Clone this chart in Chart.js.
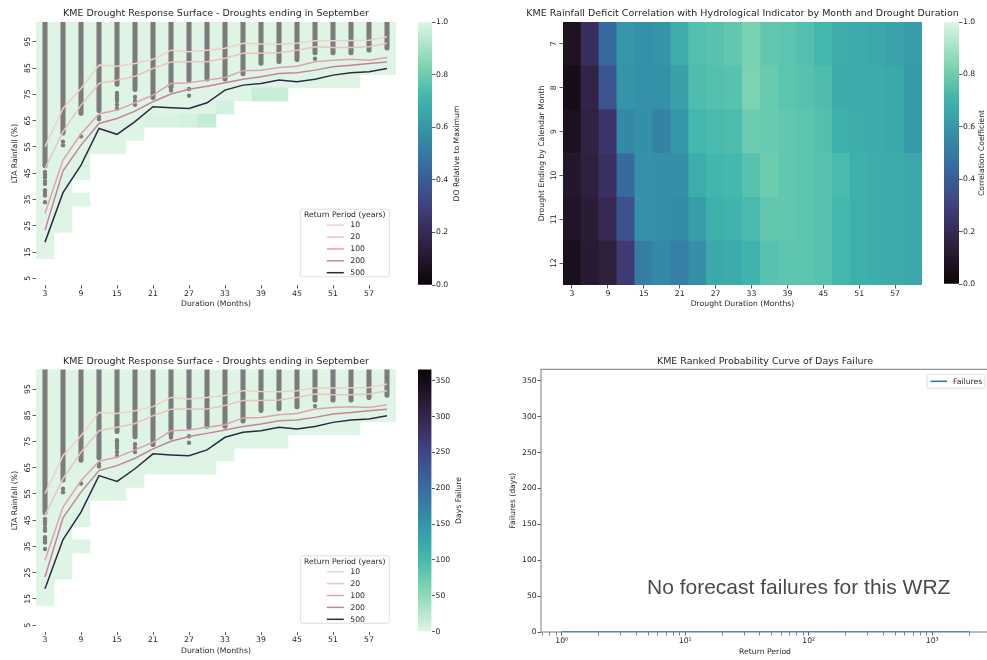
<!DOCTYPE html>
<html>
<head>
<meta charset="utf-8">
<script src="https://cdn.jsdelivr.net/npm/chart.js@4.4.1/dist/chart.umd.min.js"></script>
<style>
  html, body { margin: 0; padding: 0; background: #fff; width: 987px; height: 660px; overflow: hidden; position: relative; }
  canvas { position: absolute; }
</style>
</head>
<body>
<canvas id="surfaceDo" width="400" height="320" style="left:0px;top:0px"></canvas>
<canvas id="barDo" width="55" height="320" style="left:418px;top:0px"></canvas>
<canvas id="corrMap" width="467" height="320" style="left:520px;top:0px"></canvas>
<canvas id="barCorr" width="43" height="320" style="left:944px;top:0px"></canvas>
<canvas id="surfaceDays" width="400" height="320" style="left:0px;top:340px"></canvas>
<canvas id="barDays" width="55" height="320" style="left:418px;top:340px"></canvas>
<canvas id="rankedCurve" width="510" height="320" style="left:490px;top:340px"></canvas>
<script>
// ---------- data ----------
const durations = [3, 6, 9, 12, 15, 18, 21, 24, 27, 30, 33, 36, 39, 42, 45, 48, 51, 54, 57, 60];
const durationTicks = [3, 9, 15, 21, 27, 33, 39, 45, 51, 57];
const rainRows = [100, 95, 90, 85, 80, 75, 70, 65, 60, 55, 50, 45, 40, 35, 30, 25, 20, 15];
const rainTicks = [5, 15, 25, 35, 45, 55, 65, 75, 85, 95];

const _ = null;
// DO relative to maximum, rows follow rainRows, columns follow durations
const doRelative = [
  [1,1,1,1,1,1,1,1,1,1,1,1,1,1,1,1,1,1,1,1],
  [1,1,1,1,1,1,1,1,1,1,1,1,1,1,1,1,1,1,1,1],
  [1,1,1,1,1,1,1,1,1,1,1,1,1,1,1,1,1,1,1,1],
  [1,1,1,1,1,1,1,1,1,1,1,1,1,1,1,1,1,1,1,1],
  [1,1,1,1,1,1,1,1,1,1,1,1,1,1,1,1,1,1,_,_],
  [1,1,1,1,1,1,1,1,1,1,1,1,0.96,0.96,_,_,_,_,_,_],
  [1,1,1,1,1,1,1,1,1,1,0.98,_,_,_,_,_,_,_,_,_],
  [1,1,1,1,1,1,0.99,0.99,0.98,0.955,_,_,_,_,_,_,_,_,_,_],
  [1,1,1,1,1,1,_,_,_,_,_,_,_,_,_,_,_,_,_,_],
  [1,1,1,1,1,_,_,_,_,_,_,_,_,_,_,_,_,_,_,_],
  [1,1,1,_,_,_,_,_,_,_,_,_,_,_,_,_,_,_,_,_],
  [1,1,1,_,_,_,_,_,_,_,_,_,_,_,_,_,_,_,_,_],
  [1,1,_,_,_,_,_,_,_,_,_,_,_,_,_,_,_,_,_,_],
  [1,1,1,_,_,_,_,_,_,_,_,_,_,_,_,_,_,_,_,_],
  [1,1,_,_,_,_,_,_,_,_,_,_,_,_,_,_,_,_,_,_],
  [1,1,_,_,_,_,_,_,_,_,_,_,_,_,_,_,_,_,_,_],
  [1,_,_,_,_,_,_,_,_,_,_,_,_,_,_,_,_,_,_,_],
  [1,_,_,_,_,_,_,_,_,_,_,_,_,_,_,_,_,_,_,_]
];
// Days of failure on the same grid
const daysFailure = [
  [0,0,0,0,0,0,0,0,0,0,0,0,0,0,0,0,0,0,0,0],
  [0,0,0,0,0,0,0,0,0,0,0,0,0,0,0,0,0,0,0,0],
  [0,0,0,0,0,0,0,0,0,0,0,0,0,0,0,0,0,0,0,0],
  [0,0,0,0,0,0,0,0,0,0,0,0,0,0,0,0,0,0,0,0],
  [0,0,0,0,0,0,0,0,0,0,0,0,0,0,0,0,0,0,_,_],
  [0,0,0,0,0,0,0,0,0,0,0,0,0,0,_,_,_,_,_,_],
  [0,0,0,0,0,0,0,0,0,0,0,_,_,_,_,_,_,_,_,_],
  [0,0,0,0,0,0,0,0,0,0,_,_,_,_,_,_,_,_,_,_],
  [0,0,0,0,0,0,_,_,_,_,_,_,_,_,_,_,_,_,_,_],
  [0,0,0,0,0,_,_,_,_,_,_,_,_,_,_,_,_,_,_,_],
  [0,0,0,_,_,_,_,_,_,_,_,_,_,_,_,_,_,_,_,_],
  [0,0,0,_,_,_,_,_,_,_,_,_,_,_,_,_,_,_,_,_],
  [0,0,_,_,_,_,_,_,_,_,_,_,_,_,_,_,_,_,_,_],
  [0,0,0,_,_,_,_,_,_,_,_,_,_,_,_,_,_,_,_,_],
  [0,0,_,_,_,_,_,_,_,_,_,_,_,_,_,_,_,_,_,_],
  [0,0,_,_,_,_,_,_,_,_,_,_,_,_,_,_,_,_,_,_],
  [0,_,_,_,_,_,_,_,_,_,_,_,_,_,_,_,_,_,_,_],
  [0,_,_,_,_,_,_,_,_,_,_,_,_,_,_,_,_,_,_,_]
];

// Simulated drought rainfall: dense band floor per duration, plus isolated events
const simDenseFloor = [47, 59.5, 67, 68, 78, 76, 73, 77, 79.5, 80, 80, 82, 86, 86.7, 87.4, 90, 90, 90, 91, 91.8];
const simCeiling = 104;
const simSparseX = [3, 3, 3, 3, 3, 3, 3, 3, 3, 6, 6, 9, 12, 12, 15, 15, 15, 15, 15, 15, 18, 18, 18, 24, 24, 27, 27, 48];
const simSparseY = [45.5, 44.5, 43.5, 42, 41, 38.5, 37.5, 36.5, 34, 57, 55.6, 59, 66.5, 65.5, 75.5, 74.5, 73.5, 72.5, 71, 69.5, 74, 72.5, 71, 77.5, 76.5, 77, 74.5, 88.5];

// Return period rainfall (% LTA) by duration
const returnPeriods = ['10', '20', '100', '200', '500'];
const rp10  = [55.1, 69.6, 77.2, 86.1, 85.7, 86.7, 88.3, 91.8, 91.2, 91.8, 92.5, 94.4, 94.1, 94.0, 94.4, 95.4, 95.4, 95.5, 95.6, 96.9];
const rp20  = [46.8, 60.8, 70.9, 79.1, 80.4, 81.9, 84.8, 87.3, 87.4, 87.4, 88.7, 90.6, 90.6, 90.8, 91.8, 93.1, 92.8, 92.8, 93.1, 94.4];
const rp100 = [29.7, 50.0, 60.0, 67.5, 69.0, 71.8, 74.7, 79.1, 79.4, 80.4, 81.4, 84.0, 84.2, 85.2, 85.7, 87.4, 88.0, 88.3, 88.0, 89.0];
const rp200 = [23.3, 45.9, 55.7, 63.9, 65.8, 68.6, 72.2, 75.1, 76.9, 78.1, 79.4, 80.7, 81.7, 82.9, 83.2, 84.2, 85.5, 86.1, 86.7, 87.3];
const rp500 = [18.8, 37.6, 48.1, 62.0, 59.8, 64.6, 70.3, 69.9, 69.6, 71.8, 76.6, 78.5, 79.1, 80.4, 79.8, 80.7, 82.3, 83.2, 83.6, 84.8];

// Correlation of rainfall deficit with hydrological indicator
const calendarMonths = [7, 8, 9, 10, 11, 12];
const corrJul = [0.08, 0.22, 0.45, 0.60, 0.58, 0.59, 0.68, 0.75, 0.76, 0.78, 0.82, 0.78, 0.77, 0.75, 0.72, 0.68, 0.67, 0.66, 0.64, 0.62];
const corrAug = [0.05, 0.17, 0.37, 0.59, 0.58, 0.58, 0.63, 0.74, 0.75, 0.76, 0.83, 0.79, 0.77, 0.76, 0.74, 0.67, 0.67, 0.67, 0.66, 0.61];
const corrSep = [0.07, 0.16, 0.25, 0.55, 0.57, 0.53, 0.60, 0.72, 0.73, 0.74, 0.80, 0.79, 0.78, 0.77, 0.75, 0.69, 0.68, 0.67, 0.66, 0.61];
const corrOct = [0.10, 0.15, 0.23, 0.45, 0.58, 0.57, 0.57, 0.68, 0.71, 0.72, 0.76, 0.80, 0.78, 0.77, 0.76, 0.73, 0.69, 0.68, 0.67, 0.66];
const corrNov = [0.09, 0.13, 0.20, 0.36, 0.58, 0.57, 0.56, 0.62, 0.69, 0.70, 0.73, 0.78, 0.78, 0.77, 0.76, 0.72, 0.69, 0.68, 0.67, 0.66];
const corrDec = [0.06, 0.12, 0.15, 0.27, 0.51, 0.55, 0.52, 0.57, 0.66, 0.67, 0.70, 0.76, 0.77, 0.77, 0.76, 0.72, 0.69, 0.68, 0.67, 0.66];

// Colour bar scales
const unitTicks = [0, 0.2, 0.4, 0.6, 0.8, 1.0];
const failureTicks = [0, 50, 100, 150, 200, 250, 300, 350];
const failureMax = 366;

// Ranked probability curve (no failures recorded)
const rankedReturn   = [1, 2, 5, 10, 20, 50, 100, 200, 500, 1000, 2000];
const rankedFailures = [0, 0, 0, 0, 0, 0, 0, 0, 0, 0, 0];
const logMajor = [1, 10, 100, 1000];
const logMajorLabels = ['10\u2070', '10\u00b9', '10\u00b2', '10\u00b3'];
const logMinor = [0.7, 0.8, 0.9, 2, 3, 4, 5, 6, 7, 8, 9, 20, 30, 40, 50, 60, 70, 80, 90, 200, 300, 400, 500, 600, 700, 800, 900, 2000];

// ---------- styling ----------
const FONT = "'DejaVu Sans', sans-serif";
const TEXT = '#262626';
const SIM_GREY = '#7c7c7c';
const LINE_COLOURS = ['#efd0cb', '#ebc4c0', '#e0a2ad', '#c7819f', '#2c2947'];

const MAKO_STOPS = [
  [0, [11, 4, 5]], [1 / 7, [46, 30, 59]], [2 / 7, [65, 61, 123]], [3 / 7, [55, 101, 158]],
  [4 / 7, [52, 143, 167]], [5 / 7, [64, 183, 173]], [6 / 7, [139, 218, 178]], [1, [222, 245, 229]]
];
function mako(t) {
  t = Math.max(0, Math.min(1, t));
  for (let i = 1; i < MAKO_STOPS.length; i++) {
    if (t <= MAKO_STOPS[i][0]) {
      const [t0, c0] = MAKO_STOPS[i - 1];
      const [t1, c1] = MAKO_STOPS[i];
      const f = (t - t0) / (t1 - t0);
      return 'rgb(' + c0.map((c, k) => Math.round(c + (c1[k] - c) * f)).join(',') + ')';
    }
  }
  return 'rgb(222,245,229)';
}

Chart.defaults.font.family = FONT;
Chart.defaults.font.size = 7.7;
Chart.defaults.color = TEXT;
Chart.defaults.animation = false;
Chart.defaults.events = [];
Chart.defaults.plugins.legend.display = false;
Chart.defaults.plugins.tooltip.enabled = false;

// Titles, colour-bar captions, framed axes, legends and notes
const decor = {
  id: 'decor',
  beforeDatasetsDraw(chart, args, o) {
    if (!o.frame) return;
    const a = chart.chartArea, ctx = chart.ctx;
    ctx.save();
    ctx.strokeStyle = o.frame;
    ctx.lineWidth = 1;
    ctx.strokeRect(a.left, a.top, a.right - a.left, a.bottom - a.top);
    ctx.restore();
  },
  afterDraw(chart, args, o) {
    const a = chart.chartArea, ctx = chart.ctx;
    ctx.save();
    ctx.fillStyle = TEXT;
    if (o.title) {
      ctx.font = '9.5px ' + FONT;
      ctx.textAlign = 'center';
      ctx.textBaseline = 'middle';
      ctx.fillText(o.title, (a.left + a.right) / 2, a.top - 8);
    }
    if (o.sideLabel) {
      ctx.save();
      ctx.font = '7.7px ' + FONT;
      ctx.textAlign = 'center';
      ctx.textBaseline = 'middle';
      ctx.translate(a.right + o.sideLabel.dx, (a.top + a.bottom) / 2);
      ctx.rotate(-Math.PI / 2);
      ctx.fillText(o.sideLabel.text, 0, 0);
      ctx.restore();
    }
    if (o.returnLegend) {
      const lines = chart.data.datasets.filter(d => d.type === 'line');
      const w = 89, h = 67.5;
      const x0 = a.right - 6.7 - w, y0 = a.bottom - 8.3 - h;
      ctx.fillStyle = 'rgba(255,255,255,0.85)';
      ctx.strokeStyle = '#d6d6d6';
      ctx.lineWidth = 0.8;
      ctx.beginPath();
      ctx.roundRect(x0, y0, w, h, 2);
      ctx.fill();
      ctx.stroke();
      ctx.fillStyle = TEXT;
      ctx.font = '7.7px ' + FONT;
      ctx.textAlign = 'center';
      ctx.textBaseline = 'middle';
      ctx.fillText(o.returnLegend, x0 + w / 2, y0 + 5.9);
      ctx.textAlign = 'left';
      lines.forEach((d, i) => {
        const y = y0 + 15.9 + i * 11.9;
        ctx.strokeStyle = d.borderColor;
        ctx.lineWidth = 1.5;
        ctx.beginPath();
        ctx.moveTo(x0 + 26.5, y);
        ctx.lineTo(x0 + 43.5, y);
        ctx.stroke();
        ctx.fillText(d.label, x0 + 50, y + 0.3);
      });
    }
    if (o.seriesLegend) {
      const d = chart.data.datasets[0];
      const w = 58, h = 14;
      const x0 = a.right - 4 - w, y0 = a.top + 5;
      ctx.fillStyle = 'rgba(255,255,255,0.85)';
      ctx.strokeStyle = '#d6d6d6';
      ctx.lineWidth = 0.8;
      ctx.beginPath();
      ctx.roundRect(x0, y0, w, h, 2);
      ctx.fill();
      ctx.stroke();
      ctx.strokeStyle = d.borderColor;
      ctx.lineWidth = 1.5;
      ctx.beginPath();
      ctx.moveTo(x0 + 3.5, y0 + h / 2);
      ctx.lineTo(x0 + 20, y0 + h / 2);
      ctx.stroke();
      ctx.fillStyle = TEXT;
      ctx.font = '7.7px ' + FONT;
      ctx.textAlign = 'left';
      ctx.textBaseline = 'middle';
      ctx.fillText(d.label, x0 + 26, y0 + h / 2 + 0.3);
    }
    if (o.note) {
      ctx.fillStyle = '#4a4a4a';
      ctx.font = "21px 'Liberation Sans', Arial, sans-serif";
      ctx.textAlign = 'left';
      ctx.textBaseline = 'middle';
      ctx.fillText(o.note, a.left + 106, a.bottom - 44);
    }
    ctx.restore();
  }
};
Chart.register(decor);

const tickGrid = {
  display: true, drawOnChartArea: false, drawTicks: true, offset: false,
  tickLength: 3.5, tickColor: '#333', tickWidth: 0.8
};
const fixedTicks = list => scale => { scale.ticks = list.map(v => ({ value: v })); };

function cellsFrom(grid, rows, halfHeight) {
  const cells = [];
  rows.forEach((r, ri) => durations.forEach((d, ci) => {
    const v = grid[ri][ci];
    if (v !== null) cells.push({ x: d, y: [r - halfHeight, r + halfHeight], v });
  }));
  return cells;
}

function surfaceConfig(grid, colourOf) {
  const lineSeries = [rp10, rp20, rp100, rp200, rp500];
  const lines = lineSeries.map((vals, i) => ({
    type: 'line',
    label: returnPeriods[i],
    data: durations.map((d, k) => ({ x: d, y: vals[k] })),
    borderColor: LINE_COLOURS[i],
    borderWidth: 1.5,
    pointRadius: 0,
    tension: 0,
    fill: false,
    order: 1
  }));
  return {
    type: 'bar',
    data: {
      datasets: [
        ...lines,
        {
          type: 'scatter',
          data: simSparseX.map((x, i) => ({ x, y: simSparseY[i] })),
          pointRadius: 2.2, pointBackgroundColor: SIM_GREY, pointBorderWidth: 0,
          order: 2
        },
        {
          type: 'bar',
          data: durations.map((d, i) => ({ x: d, y: [simDenseFloor[i], simCeiling] })),
          backgroundColor: SIM_GREY, barThickness: 4.4, borderRadius: 2.2, borderSkipped: false,
          grouped: false, order: 3
        },
        {
          type: 'bar',
          data: cellsFrom(grid, rainRows, 2.5),
          backgroundColor: c => (c.raw ? colourOf(c.raw.v) : 'transparent'),
          barPercentage: 1, categoryPercentage: 1, borderWidth: 0, grouped: false, order: 4
        }
      ]
    },
    options: {
      responsive: false,
      maintainAspectRatio: false,
      layout: { padding: { left: 0, right: 4, top: 22, bottom: 10 } },
      scales: {
        x: {
          type: 'linear', min: 1.5, max: 61.5, offset: false,
          afterBuildTicks: fixedTicks(durationTicks),
          ticks: { autoSkip: false, maxRotation: 0, padding: 0.5 },
          grid: tickGrid, border: { display: false },
          title: { display: true, text: 'Duration (Months)', padding: { top: 0, bottom: 1 } },
          afterFit: s => { s.height = 25; }
        },
        y: {
          type: 'linear', min: 2.5, max: 102.5,
          afterBuildTicks: fixedTicks(rainTicks),
          ticks: { minRotation: 90, maxRotation: 90, crossAlign: 'center', padding: 0 },
          grid: tickGrid, border: { display: false },
          title: { display: true, text: 'LTA Rainfall (%)', padding: { top: 10.2, bottom: 0 } },
          afterFit: s => { s.width = 36; }
        }
      },
      plugins: {
        decor: {
          title: 'KME Drought Response Surface - Droughts ending in September',
          returnLegend: 'Return Period (years)'
        }
      }
    }
  };
}

function colourbarConfig(min, max, ticks, fmt, colourAt, caption, captionDx, top, bottom) {
  return {
    type: 'bar',
    data: {
      labels: [''],
      datasets: [{
        data: [[min, max]],
        barPercentage: 1, categoryPercentage: 1, borderWidth: 0,
        backgroundColor: c => {
          const ch = c.chart, ys = ch.scales.y;
          if (!ch.chartArea || !ys) return '#ddd';
          const g = ch.ctx.createLinearGradient(0, ys.getPixelForValue(min), 0, ys.getPixelForValue(max));
          for (let i = 0; i <= 32; i++) g.addColorStop(i / 32, colourAt(min + (max - min) * i / 32));
          return g;
        }
      }]
    },
    options: {
      responsive: false,
      maintainAspectRatio: false,
      layout: { padding: { left: 0, right: 0, top: top, bottom: bottom } },
      scales: {
        x: { display: false },
        y: {
          position: 'right', min: min, max: max,
          afterBuildTicks: fixedTicks(ticks),
          ticks: { padding: 0.5, callback: fmt },
          grid: tickGrid, border: { display: false }
        }
      },
      plugins: { decor: { sideLabel: { text: caption, dx: captionDx } } }
    }
  };
}

// ---------- top left: DO response surface ----------
new Chart(document.getElementById('surfaceDo'), surfaceConfig(doRelative, v => mako(v)));
const cbDo = colourbarConfig(0, 1, unitTicks, v => v.toFixed(1), v => mako(v), 'DO Relative to Maximum', 25, 22, 35);
cbDo.options.scales.y.afterFit = s => { s.width = 41; };
new Chart(document.getElementById('barDo'), cbDo);

// ---------- top right: correlation heatmap ----------
const corrRows = [corrJul, corrAug, corrSep, corrOct, corrNov, corrDec];
const corrCells = [];
calendarMonths.forEach((m, ri) => durations.forEach((d, ci) => {
  corrCells.push({ x: d, y: [m - 0.5, m + 0.5], v: corrRows[ri][ci] });
}));
new Chart(document.getElementById('corrMap'), {
  type: 'bar',
  data: {
    datasets: [{
      data: corrCells,
      backgroundColor: c => (c.raw ? mako(c.raw.v) : 'transparent'),
      barPercentage: 1, categoryPercentage: 1, borderWidth: 0, grouped: false
    }]
  },
  options: {
    responsive: false,
    maintainAspectRatio: false,
    layout: { padding: { left: 0, right: 65, top: 22, bottom: 10 } },
    scales: {
      x: {
        type: 'linear', min: 1.5, max: 61.5, offset: false,
        afterBuildTicks: fixedTicks(durationTicks),
        ticks: { autoSkip: false, maxRotation: 0, padding: 0.5 },
        grid: tickGrid, border: { display: false },
        title: { display: true, text: 'Drought Duration (Months)', padding: { top: 0, bottom: 1 } },
        afterFit: s => { s.height = 25; }
      },
      y: {
        type: 'linear', min: 6.5, max: 12.5, reverse: true,
        afterBuildTicks: fixedTicks(calendarMonths),
        ticks: { minRotation: 90, maxRotation: 90, crossAlign: 'center', padding: 1 },
        grid: tickGrid, border: { display: false },
        title: { display: true, text: 'Drought Ending by Calendar Month', padding: { top: 17.2, bottom: 0 } },
        afterFit: s => { s.width = 43; }
      }
    },
    plugins: {
      decor: { title: 'KME Rainfall Deficit Correlation with Hydrological Indicator by Month and Drought Duration' }
    }
  }
});
const cbCorr = colourbarConfig(0, 1, unitTicks, v => v.toFixed(1), v => mako(v), 'Correlation Coefficient', 23, 22, 36);
cbCorr.options.scales.y.afterFit = s => { s.width = 28; };
new Chart(document.getElementById('barCorr'), cbCorr);

// ---------- bottom left: days-failure response surface ----------
const daysCfg = surfaceConfig(daysFailure, v => mako(1 - v / failureMax));
daysCfg.options.layout.padding = { left: 0, right: 4, top: 29.4, bottom: 3.4 };
new Chart(document.getElementById('surfaceDays'), daysCfg);
const cbDays = colourbarConfig(0, failureMax, failureTicks, v => String(v), v => mako(1 - v / failureMax), 'Days Failure', 27.5, 29.4, 28.4);
cbDays.options.scales.y.afterFit = s => { s.width = 41.5; };
new Chart(document.getElementById('barDays'), cbDays);

// ---------- bottom right: ranked probability curve ----------
const logTicks = logMajor.map(v => ({ value: v, major: true }))
  .concat(logMinor.map(v => ({ value: v, major: false })))
  .sort((p, q) => p.value - q.value);
new Chart(document.getElementById('rankedCurve'), {
  type: 'line',
  data: {
    datasets: [{
      label: 'Failures',
      data: rankedReturn.map((x, i) => ({ x, y: rankedFailures[i] })),
      borderColor: '#1f77b4', borderWidth: 1.5, pointRadius: 0, tension: 0, fill: false
    }]
  },
  options: {
    responsive: false,
    maintainAspectRatio: false,
    layout: { padding: { left: 0, right: 11, top: 29.3, bottom: 0 } },
    scales: {
      x: {
        type: 'logarithmic', min: 0.68, max: 2880,
        afterBuildTicks: s => { s.ticks = logTicks.map(t => ({ value: t.value, major: t.major })); },
        ticks: {
          autoSkip: false, maxRotation: 0, padding: 0.5,
          callback: v => { const k = logMajor.indexOf(v); return k >= 0 ? logMajorLabels[k] : ''; }
        },
        grid: Object.assign({}, tickGrid, { tickWidth: c => (c.tick && c.tick.major ? 0.8 : 0.6) }),
        border: { display: false },
        title: { display: true, text: 'Return Period', padding: { top: 0, bottom: 3.4 } },
        afterFit: s => { s.height = 28; }
      },
      y: {
        type: 'linear', min: 0, max: failureMax,
        afterBuildTicks: fixedTicks(failureTicks),
        ticks: { padding: 0.8 },
        grid: tickGrid, border: { display: false },
        title: { display: true, text: 'Failures (days)', padding: { top: 17.9, bottom: 0 } },
        afterFit: s => { s.width = 51; }
      }
    },
    plugins: {
      decor: {
        title: 'KME Ranked Probability Curve of Days Failure',
        frame: '#7a7a7a',
        seriesLegend: true,
        note: 'No forecast failures for this WRZ'
      }
    }
  }
});
</script>
</body>
</html>
